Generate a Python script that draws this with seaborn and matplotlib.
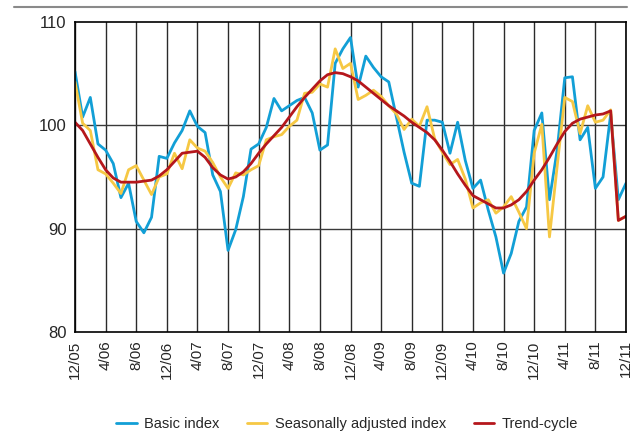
import numpy as np
import pandas as pd
import matplotlib
matplotlib.use("Agg")
import matplotlib.pyplot as plt
import seaborn as sns
from matplotlib.lines import Line2D

# =========================
# DATA (monthly, 12/05 .. 12/11)
# =========================
basic_index = [
    105.2, 100.8, 102.7, 98.2, 97.6, 96.3, 93.0, 94.4, 90.7, 89.6,
    91.1, 97.0, 96.8, 98.3, 99.5, 101.4, 99.9, 99.3, 95.2, 93.6,
    87.9, 89.9, 93.1, 97.7, 98.2, 99.8, 102.6, 101.4, 101.9, 102.4,
    102.7, 101.2, 97.6, 98.1, 106.0, 107.4, 108.5, 103.7, 106.7, 105.6,
    104.7, 104.2, 100.8, 97.4, 94.4, 94.1, 100.5, 100.5, 100.3, 97.3,
    100.3, 96.6, 93.9, 94.7, 91.8, 89.2, 85.7, 87.6, 90.7, 92.1,
    99.5, 101.2, 92.8, 97.6, 104.6, 104.7, 98.6, 99.8, 93.9, 95.0,
    101.1, 92.8, 94.4,
]

seasonally_adjusted = [
    104.2, 100.2, 99.5, 95.7, 95.3, 94.4, 93.4, 95.7, 96.1, 94.7,
    93.3, 95.0, 95.3, 97.3, 95.8, 98.6, 97.8, 97.5, 96.4, 95.0,
    93.9, 95.4, 95.2, 95.7, 96.1, 98.6, 98.9, 99.1, 99.9, 100.5,
    103.1, 103.2, 104.0, 103.7, 107.4, 105.5, 106.0, 102.5, 102.9, 103.4,
    102.8, 101.9, 101.1, 99.6, 100.6, 99.9, 101.8, 98.7, 97.4, 96.2,
    96.7, 94.8, 92.0, 92.5, 92.8, 91.5, 92.1, 93.1, 91.6, 90.0,
    97.3, 100.1, 89.2, 96.0, 102.7, 102.3, 99.2, 101.9, 100.3, 100.5,
    101.5, 90.8, 91.2,
]

trend_cycle = [
    100.3, 99.5, 98.2, 96.9, 95.7, 94.9, 94.5, 94.5, 94.5, 94.6,
    94.7, 95.1, 95.7, 96.5, 97.3, 97.4, 97.5, 96.9, 95.9, 95.2,
    94.8, 95.0, 95.5, 96.3, 97.3, 98.2, 99.0, 99.8, 100.8, 101.8,
    102.7, 103.5, 104.3, 104.9, 105.1, 105.0, 104.7, 104.3, 103.7, 103.1,
    102.5, 101.9, 101.4, 100.9, 100.3, 99.8, 99.3, 98.6, 97.6, 96.5,
    95.3, 94.2, 93.2, 92.8, 92.4, 92.0, 92.0, 92.3, 92.8, 93.6,
    94.7, 95.7, 96.9, 98.2, 99.4, 100.2, 100.6, 100.8, 101.0, 101.1,
    101.4, 90.8, 91.2,
]

tick_labels = [
    "12/05", "4/06", "8/06", "12/06", "4/07", "8/07", "12/07", "4/08",
    "8/08", "12/08", "4/09", "8/09", "12/09", "4/10", "8/10", "12/10",
    "4/11", "8/11", "12/11",
]

months = np.arange(len(basic_index))

df = pd.DataFrame({
    "month": months,
    "Basic index": basic_index,
    "Seasonally adjusted index": seasonally_adjusted,
    "Trend-cycle": trend_cycle,
})

# =========================
# STYLE
# =========================
sns.set_style("white")
plt.rcParams["font.family"] = ["Liberation Sans", "DejaVu Sans"]

fig = plt.figure(figsize=(6.32, 4.34), dpi=100)
ax = fig.add_axes([75 / 632, 1 - 332 / 434, 551 / 632, 310 / 434])

colors = {
    "Basic index": "#129fd6",
    "Seasonally adjusted index": "#f6c844",
    "Trend-cycle": "#b5171c",
}

for name in ["Basic index", "Seasonally adjusted index", "Trend-cycle"]:
    sns.lineplot(
        data=df,
        x="month",
        y=name,
        ax=ax,
        color=colors[name],
        linewidth=2.0,
        label=name,
    )

# =========================
# AXES
# =========================
ax.set_xlim(0, len(months) - 1)
ax.set_ylim(80, 110)
ax.set_xticks(months[::4])
ax.set_xticklabels(tick_labels, rotation=90, fontsize=11)
ax.set_yticks([80, 90, 100, 110])
ax.set_yticklabels(["80", "90", "100", "110"], fontsize=12)
ax.tick_params(length=0, pad=6)
ax.set_xlabel("")
ax.set_ylabel("")

for x in months[::4]:
    ax.axvline(x, color="#2a2a2a", linewidth=1.0, zorder=0)
for y in [90, 100]:
    ax.axhline(y, color="#3a3a3a", linewidth=1.0, zorder=0)

for spine in ax.spines.values():
    spine.set_color("black")
    spine.set_linewidth(1.2)

ax.legend_.remove()
handles = [Line2D([0], [0], color=colors[n], linewidth=2.0) for n in colors]
fig.legend(
    handles,
    list(colors.keys()),
    loc="center",
    bbox_to_anchor=(347 / 632, 1 - 424 / 434),
    ncol=3,
    frameon=False,
    fontsize=10.5,
    handlelength=1.4,
    columnspacing=1.9,
    handletextpad=0.5,
)

# top rule
fig.add_artist(Line2D([14 / 632, 627 / 632], [1 - 7 / 434, 1 - 7 / 434],
                      color="#8a8a8a", linewidth=1.5))

plt.savefig("out.png", dpi=100)
